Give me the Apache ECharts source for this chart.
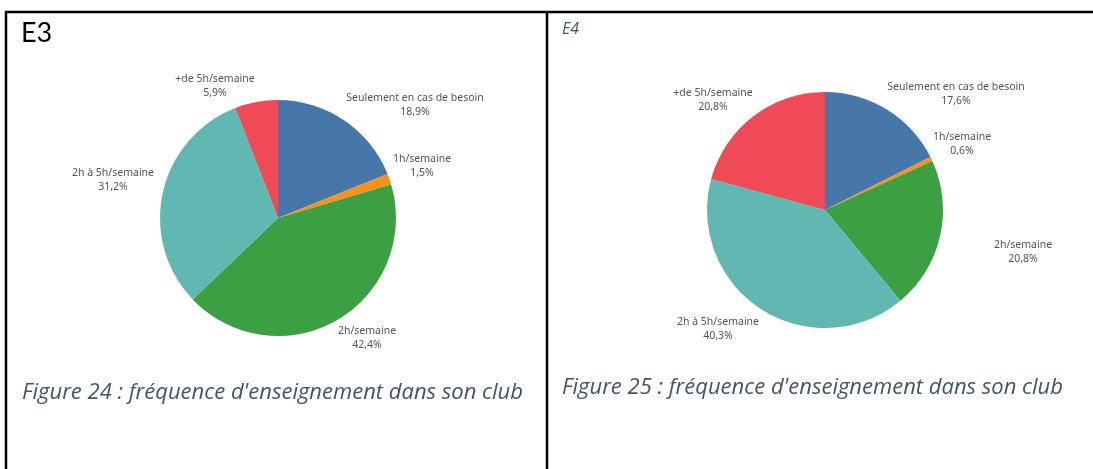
<!DOCTYPE html>
<html>
<head>
<meta charset="utf-8">
<script src="https://cdn.jsdelivr.net/npm/echarts@6/dist/echarts.min.js"></script>
<style>
  html, body { margin: 0; padding: 0; background: #fff; }
  #main { width: 1093px; height: 469px; }
</style>
</head>
<body>
<div id="main"></div>
<script>
// categories, same order for both pies (clockwise from 12 o'clock)
const categories = [
  "Seulement en cas de besoin",
  "1h/semaine",
  "2h/semaine",
  "2h à 5h/semaine",
  "+de 5h/semaine",
];
const valuesE3 = [18.9, 1.5, 42.4, 31.2, 5.9];
const valuesE4 = [17.6, 0.6, 20.8, 40.3, 20.8];
const colors = ["#4677a8", "#f8901c", "#3c9f41", "#61b8b2", "#ef4a55"];

// where tableau dropped each label (text centre)
const labelPosE3 = [[415, 105], [422, 166], [367, 338], [113, 180], [215, 86]];
const labelPosE4 = [[956, 94], [962, 144], [1023, 252], [718, 329], [713, 100]];

const chart = echarts.init(document.getElementById("main"));

function pieSeries(values, center, labelPos) {
  return {
    type: "pie",
    center: center,
    radius: 118,
    startAngle: 90,
    clockwise: true,
    silent: true,
    avoidLabelOverlap: false,
    itemStyle: { borderWidth: 0 },
    label: {
      show: true,
      position: "outside",
      color: "#555",
      fontFamily: "Noto Sans",
      fontSize: 10.5,
      lineHeight: 14,
      align: "center",
      formatter: (p) => p.name + "\n" + p.value.toFixed(1).replace(".", ",") + "%",
    },
    labelLine: { show: false },
    labelLayout: (params) => {
      const pos = labelPos[params.dataIndex];
      return { x: pos[0], y: pos[1], align: "center", verticalAlign: "middle" };
    },
    data: categories.map((name, i) => ({
      name: name,
      value: values[i],
      itemStyle: { color: colors[i] },
    })),
  };
}

const captionFont = "italic 22px 'Open Sans'";
const option = {
  backgroundColor: "#fff",
  animation: false,
  series: [
    pieSeries(valuesE3, [278, 218], labelPosE3),
    pieSeries(valuesE4, [825, 210], labelPosE4),
  ],
  graphic: [
    // table borders
    { type: "line", shape: { x1: 5, y1: 12, x2: 1093, y2: 12 }, style: { stroke: "#000", lineWidth: 2.5 } },
    { type: "line", shape: { x1: 6, y1: 11, x2: 6, y2: 469 }, style: { stroke: "#000", lineWidth: 2.5 } },
    { type: "line", shape: { x1: 547, y1: 11, x2: 547, y2: 469 }, style: { stroke: "#000", lineWidth: 2.5 } },
    { type: "text", left: 21, top: 20, style: { text: "E3", font: "27px Lato", fill: "#000" } },
    { type: "text", left: 562, top: 21, style: { text: "E4", font: "italic 16px 'Open Sans'", fill: "#44546a" } },
    {
      type: "text", left: 22, top: 382,
      style: { text: "Figure 24 : fréquence d'enseignement dans son club", font: captionFont, fill: "#44546a" },
    },
    {
      type: "text", left: 562, top: 377,
      style: { text: "Figure 25 : fréquence d'enseignement dans son club", font: captionFont, fill: "#44546a" },
    },
  ],
};
chart.setOption(option);
</script>
</body>
</html>
